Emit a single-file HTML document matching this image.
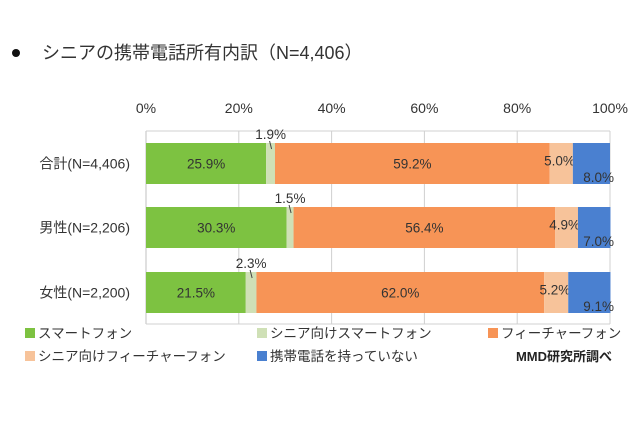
<!DOCTYPE html>
<html><head><meta charset="utf-8">
<style>
body{margin:0;background:#fff;}
svg text{font-family:"Liberation Sans","Noto Sans CJK JP",sans-serif;}
</style></head>
<body>
<svg width="640" height="426" viewBox="0 0 640 426">
<circle cx="16" cy="53" r="4" fill="#111"/>
<text x="42" y="59" font-size="18" fill="#333">シニアの携帯電話所有内訳（N=4,406）</text>
<g id="plot"></g>
<g id="legend"></g>
<text x="612" y="361" font-size="13" font-weight="bold" fill="#222" text-anchor="end">MMD研究所調べ</text>
</svg>
<script>
const categories=["合計(N=4,406)","男性(N=2,206)","女性(N=2,200)"];
const seriesNames=["スマートフォン","シニア向けスマートフォン","フィーチャーフォン","シニア向けフィーチャーフォン","携帯電話を持っていない"];
const smartphone=[25.9,30.3,21.5];
const seniorSmartphone=[1.9,1.5,2.3];
const featurePhone=[59.2,56.4,62.0];
const seniorFeaturePhone=[5.0,4.9,5.2];
const noPhone=[8.0,7.0,9.1];
const ticks=[0,20,40,60,80,100];
const colors=["#7dc241","#cfe0b6","#f79456","#f7c39a","#4a80d0"];
const series=[smartphone,seniorSmartphone,featurePhone,seniorFeaturePhone,noPhone];
const NS="http://www.w3.org/2000/svg";
const x0=146,x1=610,plotTop=131,plotBottom=324;
const xs=v=>x0+(x1-x0)*v/100;
const barY=[143,207,272],barH=41;
const plot=document.getElementById('plot');
function mk(tag,attrs,parent){const e=document.createElementNS(NS,tag);for(const k in attrs)e.setAttribute(k,attrs[k]);(parent||plot).appendChild(e);return e;}
ticks.forEach(t=>{
  const l=mk('line',{x1:xs(t),x2:xs(t),y1:plotTop,y2:plotBottom,stroke:'#d0d0d0','stroke-width':1});
  
  
  const tx=mk('text',{x:xs(t),y:113,'font-size':14,fill:'#333','text-anchor':'middle'});
  tx.textContent=t+'%';
  
  
});
const bl=mk('line',{x1:x0,x2:x0,y1:plotTop,y2:plotBottom,stroke:'#c0c0c0'});


const bb=mk('line',{x1:x0,x2:x1,y1:plotTop,y2:plotTop,stroke:'#d0d0d0'});


const bt=mk('line',{x1:x0,x2:x1,y1:plotBottom,y2:plotBottom,stroke:'#d0d0d0'});


categories.forEach((c,i)=>{
  const y=barY[i];
  const cl=mk('text',{x:130,y:y+barH/2+5,'font-size':14,fill:'#333','text-anchor':'end'});
  cl.textContent=c;
  
  
  let acc=0;
  series.forEach((s,j)=>{
    const v=s[i];const xa=xs(acc),xb=xs(acc+v);
    const r=mk('rect',{x:xa,y:y,width:xb-xa,height:barH,fill:colors[j]});
    
    
    let lx,ly,anchor='middle';
    if(j===0||j===2){lx=(xa+xb)/2;ly=y+barH/2+5;}
    else if(j===1){lx=(xa+xb)/2;ly=y-4;
      const ld=mk('line',{x1:(xa+xb)/2-1,y1:y-2,x2:(xa+xb)/2+1,y2:y+6,stroke:'#444'});
      
      }
    else if(j===3){lx=xb+2;ly=y+barH/2+2;anchor='end';}
    else{lx=x1+4;ly=y+barH-2;anchor='end';}
    const t=mk('text',{x:lx,y:ly,'font-size':13.5,fill:'#333','text-anchor':anchor});
    t.textContent=v.toFixed(1)+'%';
    
    
    acc+=v;
  });
});
const lg=document.getElementById('legend');
const legPos=[[25,333],[257,333],[488,333],[25,356],[257,356]];
seriesNames.forEach((n,j)=>{
  const [lx,ly]=legPos[j];
  const r=mk('rect',{x:lx,y:ly-5,width:10,height:10,fill:colors[j]},lg);
  
  
  const t=mk('text',{x:lx+13,y:ly+5,'font-size':13.5,fill:'#333'},lg);
  t.textContent=n;
  
  
});
</script>
</body></html>
